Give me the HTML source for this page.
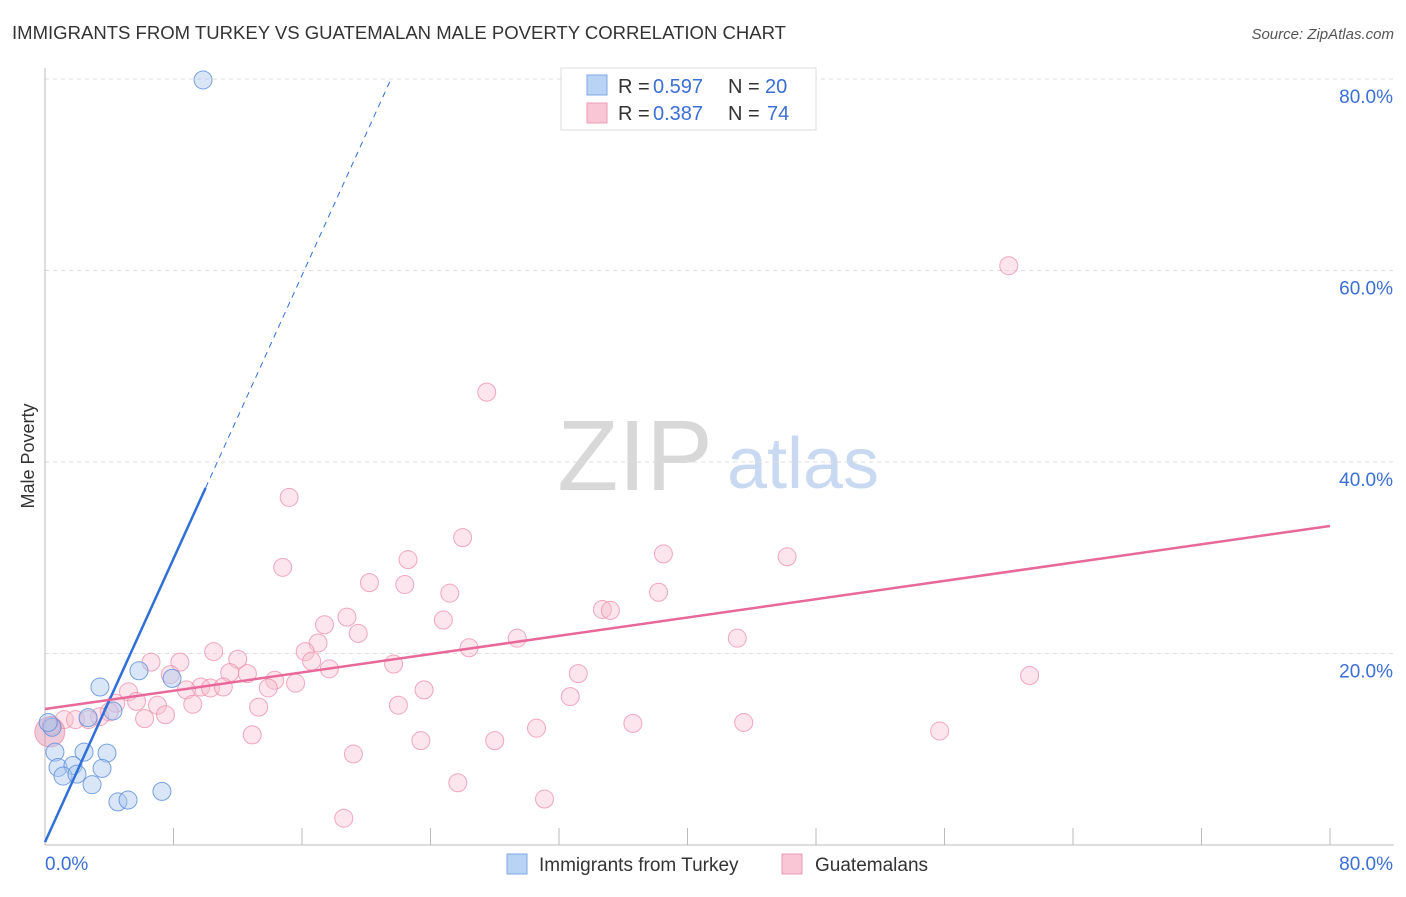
<!DOCTYPE html>
<html><head><meta charset="utf-8"><style>
body{margin:0;background:#fff;font-family:"Liberation Sans",sans-serif;}
svg text{font-family:"Liberation Sans",sans-serif;}
</style></head><body>
<svg id="chart" width="1406" height="892" xmlns="http://www.w3.org/2000/svg">
<text x="12" y="39" font-size="18" fill="#333" textLength="774" lengthAdjust="spacingAndGlyphs">IMMIGRANTS FROM TURKEY VS GUATEMALAN MALE POVERTY CORRELATION CHART</text>
<text x="1394" y="39" font-size="15" fill="#555" text-anchor="end" font-style="italic">Source: ZipAtlas.com</text>
<text transform="translate(34,456) rotate(-90)" font-size="18" fill="#333" text-anchor="middle">Male Poverty</text>
<g>
<text x="635" y="490" font-size="100" fill="#d8d8d8" font-family="Liberation Serif" text-anchor="middle">ZIP</text>
<text x="803" y="488" font-size="72" fill="#c9d9f2" text-anchor="middle">atlas</text>
</g>
<g id="grid"></g><g id="axes"></g><g id="pink"></g><g id="blue"></g><g id="lines"></g>
<g>
<rect x="561" y="68" width="255" height="62" fill="#fff" stroke="#ddd"/>
<rect x="587" y="75" width="20" height="20" fill="#b9d3f5" stroke="#7fa8e6"/>
<rect x="587" y="103" width="20" height="20" fill="#f8c6d5" stroke="#ec9bb4"/>
<text x="618" y="93" font-size="20" fill="#333">R =</text><text x="653" y="93" font-size="20" fill="#3b6fd6">0.597</text>
<text x="728" y="93" font-size="20" fill="#333">N =</text><text x="765" y="93" font-size="20" fill="#3b6fd6">20</text>
<text x="618" y="120" font-size="20" fill="#333">R =</text><text x="653" y="120" font-size="20" fill="#3b6fd6">0.387</text>
<text x="728" y="120" font-size="20" fill="#333">N =</text><text x="767" y="120" font-size="20" fill="#3b6fd6">74</text>
</g>
<g>
<rect x="507" y="854" width="20" height="20" fill="#b9d3f5" stroke="#7fa8e6"/>
<text x="539" y="871" font-size="19" fill="#333">Immigrants from Turkey</text>
<rect x="782" y="854" width="20" height="20" fill="#f8c6d5" stroke="#ec9bb4"/>
<text x="815" y="871" font-size="19" fill="#333">Guatemalans</text>
</g>
</svg>
<script>
const yTicks=[20,40,60,80];
const xTickLabels=["0.0%","80.0%"];
const blueX=[9.84,3.42,5.85,7.91,4.23,2.68,0.62,2.43,3.86,0.81,1.74,3.55,1.12,1.99,2.93,7.28,4.54,5.17,0.44,0.2];
const blueY=[79.9,16.5,18.2,17.4,14.0,13.3,9.7,9.7,9.6,8.1,8.3,8.0,7.2,7.4,6.3,5.6,4.5,4.7,12.3,12.8];
const pinkX=[60.0,27.5,15.2,26.0,38.5,46.2,22.6,14.8,20.2,22.4,25.2,38.2,34.7,35.2,18.8,24.8,17.4,19.5,29.4,43.1,17.0,26.4,10.5,16.2,6.6,8.4,12.0,16.6,21.7,17.7,7.8,11.5,12.6,33.2,61.3,14.3,15.6,9.7,10.3,11.1,13.9,8.8,5.2,23.6,32.7,5.7,4.4,9.2,13.3,22.0,7.0,7.5,4.0,3.4,6.2,1.2,1.9,2.7,0.4,36.6,43.5,30.6,55.7,12.9,23.4,28.0,19.2,25.7,31.1,18.6,0.3];
const pinkY=[60.5,47.3,36.3,32.1,30.4,30.1,29.8,29.0,27.4,27.2,26.3,26.4,24.6,24.5,23.8,23.5,23.0,22.1,21.6,21.6,21.1,20.6,20.2,20.2,19.1,19.1,19.4,19.2,18.9,18.4,17.8,18.0,17.9,17.9,17.7,17.2,16.9,16.5,16.4,16.5,16.4,16.2,16.0,16.2,15.5,15.0,14.8,14.7,14.4,14.6,14.6,13.6,13.9,13.4,13.2,13.1,13.1,13.1,12.5,12.7,12.8,12.2,11.9,11.5,10.9,10.9,9.5,6.5,4.8,2.8,11.8];
const blueTrend=[0.3,3.7];
const pinkTrend=[14.2,0.239];
const NS="http://www.w3.org/2000/svg";
const sx=v=>45+v/80*1285, sy=v=>845-v/20*191.5;
function mk(p,t,a){const e=document.createElementNS(NS,t);for(const k in a)e.setAttribute(k,a[k]);document.getElementById(p).appendChild(e);return e;}
yTicks.forEach(t=>{
 const l=mk('grid','line',{x1:45,x2:1394,y1:sy(t),y2:sy(t),stroke:'#ddd','stroke-dasharray':'4,4'});
 
 
 const tx=mk('grid','text',{x:1393,y:sy(t)+24,'font-size':19,fill:'#3b6fd6','text-anchor':'end'});
 tx.textContent=t.toFixed(1)+'%';
 
 
});
let ax=mk('axes','line',{x1:45,x2:45,y1:68,y2:845,stroke:'#bbb'});


ax=mk('axes','line',{x1:45,x2:1394,y1:845,y2:845,stroke:'#bbb'});


for(let i=0;i<=80;i+=8){
 const tk=mk('axes','line',{x1:sx(i),x2:sx(i),y1:828,y2:845,stroke:'#bbb'});
 
 
}
[[0,'start',45],[80,'end',1393]].forEach((d,i)=>{
 const tx=mk('axes','text',{x:d[2],y:870,'font-size':19,fill:'#3b6fd6','text-anchor':d[1]});
 tx.textContent=xTickLabels[i];
 
 
});
pinkX.forEach((x,i)=>{
 const big=i===pinkX.length-1;
 const c=mk('pink','circle',{cx:sx(x),cy:sy(pinkY[i]),r:big?15:9,fill:big?'rgba(220,140,170,0.45)':'rgba(248,190,208,0.4)',stroke:'rgba(236,140,170,0.75)'});
 
 
});
blueX.forEach((x,i)=>{
 const c=mk('blue','circle',{cx:sx(x),cy:sy(blueY[i]),r:9,fill:'rgba(170,200,240,0.45)',stroke:'rgba(90,140,220,0.8)'});
 
 
});
let l=mk('lines','line',{x1:sx(0),y1:sy(blueTrend[0]),x2:sx(10),y2:sy(blueTrend[0]+blueTrend[1]*10),stroke:'#2f6fd6','stroke-width':2.5});


const xe=(80-blueTrend[0])/blueTrend[1];
l=mk('lines','line',{x1:sx(10),y1:sy(blueTrend[0]+blueTrend[1]*10),x2:sx(xe),y2:sy(80),stroke:'#2f6fd6','stroke-width':1,'stroke-dasharray':'6,5'});


l=mk('lines','line',{x1:sx(0),y1:sy(pinkTrend[0]),x2:sx(80),y2:sy(pinkTrend[0]+pinkTrend[1]*80),stroke:'#e8689a','stroke-width':2.5});


</script>
</body></html>
